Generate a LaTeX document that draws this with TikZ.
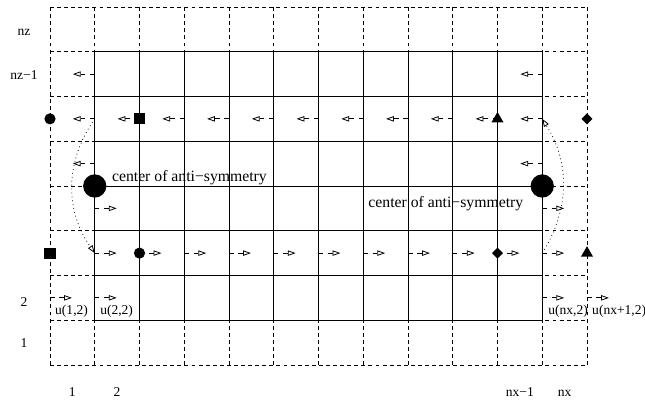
\documentclass[tikz,border=0pt]{standalone}
\usepackage{fontspec}
\setmainfont{Liberation Serif}
\usetikzlibrary{arrows.meta,shapes.geometric}

\begin{document}
\begin{tikzpicture}[dot/.style={circle,fill=black,inner sep=0pt,minimum size=0.25cm},
    bigdot/.style={circle,fill=black,inner sep=0pt,minimum size=0.52cm},
    sqr/.style={rectangle,fill=black,inner sep=0pt,minimum size=0.25cm},
    tri/.style={regular polygon,regular polygon sides=3,fill=black,inner sep=0pt,minimum size=0.31cm},
    dia/.style={diamond,fill=black,inner sep=0pt,minimum size=0.25cm},
    stub/.style={dash pattern=on 3pt off 3pt,line width=0.5pt,-{Triangle[open,length=5pt,width=3.4pt]}},
    bow/.style={dotted,line width=0.5pt,-{Triangle[open,length=5pt,width=3.4pt]}},
    lbl/.style={inner sep=0pt,font=\fontsize{8.6}{10}\selectfont},
    txt/.style={inner sep=0pt,font=\fontsize{10}{12}\selectfont}]

    \useasboundingbox (-1.117,-0.872) rectangle (13.296,8.156);

    \draw[line width=0.6pt,dash pattern=on 2.5pt off 2pt] (0,0) grid (12,8);
    \draw[line width=0.6pt] (1,1) grid (11,7);

    \foreach \x in {1,...,11} {
        \draw[stub] (\x,5.5) -- ++(-0.49,0);
        \draw[stub] (\x,2.5) -- ++(0.49,0);
    }
    \foreach \x in {1,11} {
        \draw[stub] (\x,6.5) -- ++(-0.49,0);
        \draw[stub] (\x,4.5) -- ++(-0.49,0);
        \draw[stub] (\x,3.5) -- ++(0.49,0);
    }
    \foreach \x in {0,1,11,12}
        \draw[stub] (\x,1.5) -- ++(0.49,0);

    \node[dot] (c1) at (0,5.5) {};
    \node[sqr] (s1) at (2,5.5) {};
    \node[tri] (t1) at (10,5.5) {};
    \node[dia] (d1) at (12,5.5) {};
    \node[sqr] (s2) at (0,2.5) {};
    \node[dot] (c2) at (2,2.5) {};
    \node[dia] (d2) at (10,2.5) {};
    \node[tri] (t2) at (12,2.5) {};
    \node[bigdot] (cl) at (1,4) {};
    \node[bigdot] (cr) at (11,4) {};

    \coordinate (top1) at (1,5.5);
    \coordinate (bot1) at (1,2.5);
    \coordinate (bot2) at (11,2.5);
    \coordinate (top2) at (11,5.5);
    \draw[bow] (top1) to[bend right=35] (bot1);
    \draw[bow] (bot2) to[bend right=32] (top2);

    \node[txt,anchor=base west] (cenl) at (1.38,4.11) {center of anti−symmetry};
    \node[txt,anchor=base west] (cenr) at (7.11,3.51) {center of anti−symmetry};

    \node[lbl,anchor=base west] (u1) at (0.11,1.117) {u(1,2)};
    \node[lbl,anchor=base west] (u2) at (1.117,1.117) {u(2,2)};
    \node[lbl,anchor=base west] (u3) at (11.13,1.117) {u(nx,2)};
    \node[lbl,anchor=base west] (u4) at (12.11,1.117) {u(nx+1,2)};

    \node[lbl,anchor=base] (z1) at (-0.58,7.37) {nz};
    \node[lbl,anchor=base] (z2) at (-0.58,6.37) {nz−1};
    \node[lbl,anchor=base] (z3) at (-0.58,1.30) {2};
    \node[lbl,anchor=base] (z4) at (-0.58,0.38) {1};

    \node[lbl,anchor=base] (x1) at (0.5,-0.715) {1};
    \node[lbl,anchor=base] (x2) at (1.5,-0.715) {2};
    \node[lbl,anchor=base] (x3) at (10.5,-0.715) {nx−1};
    \node[lbl,anchor=base] (x4) at (11.5,-0.715) {nx};

\end{tikzpicture}
\end{document}
